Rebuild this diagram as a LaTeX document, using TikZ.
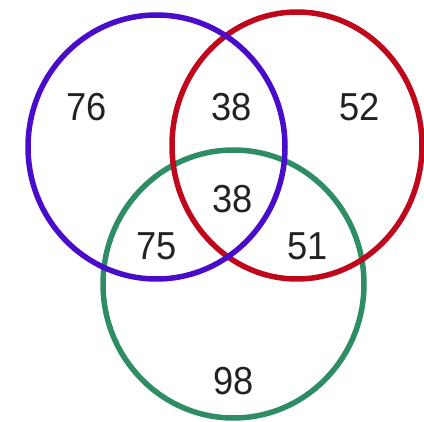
\documentclass[tikz,border=0pt]{standalone}
\usepackage{fontspec}
\setmainfont{Liberation Sans}
\definecolor{vpurple}{HTML}{4A0CCB}
\definecolor{vred}{HTML}{C0081C}
\definecolor{vgreen}{HTML}{2F8D66}
\definecolor{vtext}{HTML}{222222}
\begin{document}
\begin{tikzpicture}[x=1pt,y=-1pt,
  ring/.style={line width=5.5pt},
  num/.style={font=\fontsize{39}{42}\selectfont, text=vtext, inner sep=0pt, xscale=0.93}]
\useasboundingbox (0,0) rectangle (424,422);
\draw[ring, vgreen] (233.5,284) ellipse [x radius=130.5, y radius=134];
\draw[ring, vred] (297,145.5) ellipse [x radius=125, y radius=133.5];
\draw[ring, vpurple] (156.5,147) ellipse [x radius=128.5, y radius=132];
\node[num] (a) at (87,107) {76};
\node[num] (ab) at (232,107.5) {38};
\node[num] (b) at (360,107) {52};
\node[num] (abc) at (233,199) {38};
\node[num] (ac) at (157,246) {75};
\node[num] (bc) at (308,246.5) {51};
\node[num] (c) at (233.5,381.5) {98};
\end{tikzpicture}
\end{document}
